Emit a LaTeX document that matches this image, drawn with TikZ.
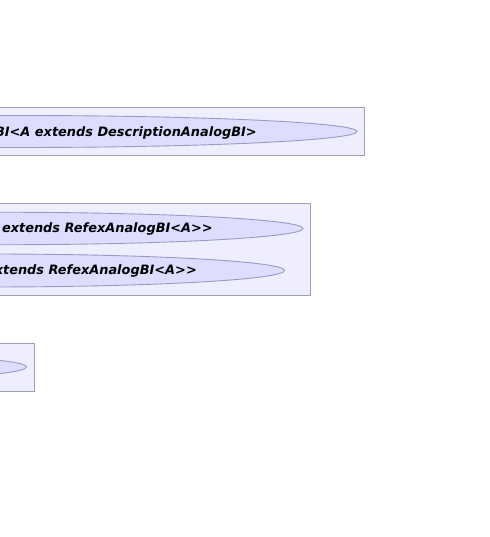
\documentclass[tikz,border=0pt]{standalone}
\usepackage{fontspec}
\setmainfont{DejaVu Sans}[Ligatures=TeXOff]
\usetikzlibrary{shapes.geometric}
\definecolor{boxfill}{HTML}{EEEEFF}
\definecolor{boxline}{HTML}{A0A0B4}
\definecolor{ellfill}{HTML}{DDDDFF}
\definecolor{ellline}{HTML}{9A9AC0}
\tikzset{
  clusterbox/.style={draw=boxline, fill=boxfill, line width=0.9bp},
  ell/.style={ellipse, draw=ellline, fill=ellfill, line width=0.9bp, inner sep=0pt},
  lbl/.style={font=\fontsize{12.9bp}{14bp}\selectfont\bfseries\itshape, text=black, inner sep=0pt, anchor=base east}
}
\begin{document}
\begin{tikzpicture}[x=1bp,y=-1bp]
\useasboundingbox (0,0) rectangle (490,537);
\clip (0,0) rectangle (490,537);
% cluster 1
\node[clusterbox, minimum width=800bp, minimum height=48bp, inner sep=0pt] (c1) at (-36,131) {};
\node[ell, minimum width=680bp, minimum height=32bp] (e1) at (17,131.5) {};
\node[lbl] (t1) at (257,136.3) {BI<A extends DescriptionAnalogBI>};
% cluster 2
\node[clusterbox, minimum width=800bp, minimum height=92bp, inner sep=0pt] (c2) at (-90,249) {};
\node[ell, minimum width=608bp, minimum height=32.5bp] (e2) at (-1,228.5) {};
\node[lbl] (t2) at (213,232.5) {extends RefexAnalogBI<A>>};
\node[ell, minimum width=594bp, minimum height=33bp] (e3) at (-12.5,270.5) {};
\node[lbl] (t3) at (197,274.5) {xtends RefexAnalogBI<A>>};
% cluster 3
\node[clusterbox, minimum width=800bp, minimum height=48bp, inner sep=0pt] (c3) at (-366,367) {};
\node[ell, minimum width=600bp, minimum height=32bp] (e4) at (-273.5,367) {};
\end{tikzpicture}
\end{document}
